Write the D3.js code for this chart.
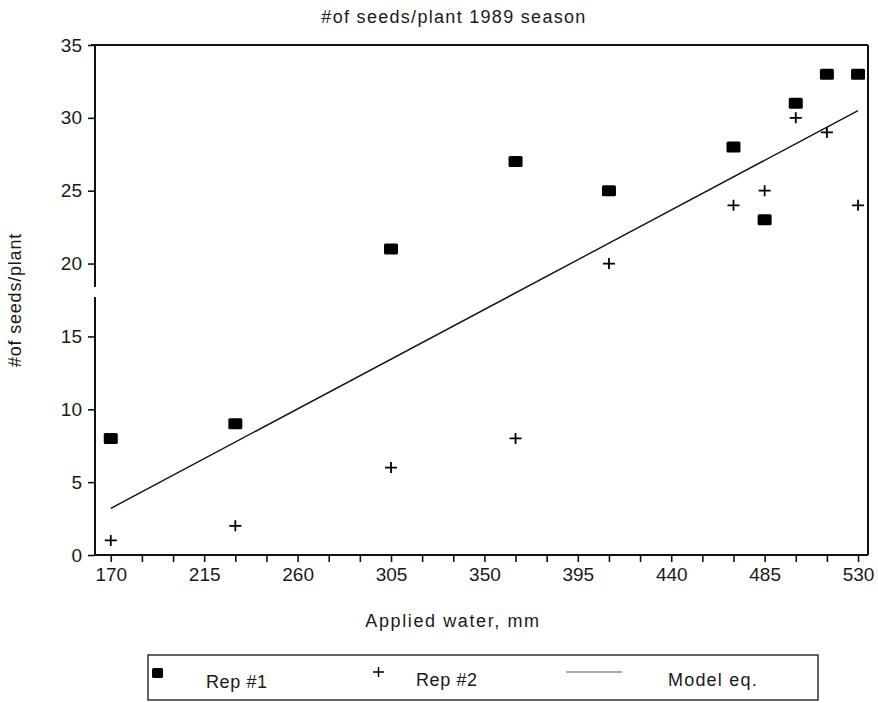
<!DOCTYPE html>
<html>
<head>
<meta charset="utf-8">
<script src="https://cdn.jsdelivr.net/npm/d3@7"></script>
<style>
body { margin: 0; background: #fff; }
text { font-family: "Liberation Sans", Arial, sans-serif; fill: #1a1a1a; }
</style>
</head>
<body>
<div id="graph"></div>
<script>
// values
var water = [170, 230, 305, 365, 410, 470, 485, 500, 515, 530];
var rep1 = [8, 9, 21, 27, 25, 28, 23, 31, 33, 33];
var rep2 = [1, 2, 6, 8, 20, 24, 25, 30, 29, 24];
var modelWater = [170, 530];
var modelSeeds = [3.2, 30.5];
var xLabels = [170, 215, 260, 305, 350, 395, 440, 485, 530];
var xMinor = [170, 185, 200, 215, 230, 245, 260, 275, 290, 305, 320, 335, 350, 365, 380, 395, 410, 425, 440, 455, 470, 485, 500, 515, 530];
var yLabels = [0, 5, 10, 15, 20, 25, 30, 35];

var W = 878, H = 703;
var pLeft = 95, pRight = 868, pTop = 45, pBottom = 555;
var fs = '19px';

var svg = d3.select('#graph').append('svg')
  .attr('width', W).attr('height', H);

var x = d3.scaleLinear().domain([162.4, 534.8]).range([pLeft, pRight]);
var y = d3.scaleLinear().domain([0, 35]).range([pBottom, pTop]);

// title + axis labels
svg.append('text').attr('x', 454).attr('y', 23).attr('text-anchor', 'middle')
  .style('font-size', '18px').style('letter-spacing', '1.3px').text('#of seeds/plant 1989 season');
svg.append('text').attr('transform', 'translate(21,300) rotate(-90)')
  .attr('text-anchor', 'middle').style('font-size', '18px').style('letter-spacing', '0.8px').text('#of seeds/plant');
svg.append('text').attr('x', 453).attr('y', 627).attr('text-anchor', 'middle')
  .style('font-size', '18px').style('letter-spacing', '1.6px').text('Applied water, mm');

// x axis
var xAxis = svg.append('g').attr('transform', 'translate(0,' + pBottom + ')')
  .call(d3.axisBottom(x).tickValues(xMinor).tickSize(7).tickPadding(6).tickFormat(function (d) {
    return xLabels.indexOf(d) >= 0 ? d : '';
  }));
xAxis.select('.domain').remove();
xAxis.selectAll('line').attr('stroke', '#111').attr('stroke-width', 1.6);
xAxis.selectAll('text').style('font-size', fs);

// y axis
var yAxis = svg.append('g').attr('transform', 'translate(' + pLeft + ',0)')
  .call(d3.axisLeft(y).tickValues(yLabels).tickSize(7).tickPadding(6));
yAxis.select('.domain').remove();
yAxis.selectAll('line').attr('stroke', '#111').attr('stroke-width', 1.6);
yAxis.selectAll('text').style('font-size', fs);

// frame, with the break in the y axis
var frame = svg.append('g').attr('stroke', '#111').attr('stroke-width', 2).attr('fill', 'none');
frame.append('line').attr('x1', pLeft).attr('x2', pLeft).attr('y1', pTop).attr('y2', 287);
frame.append('line').attr('x1', pLeft).attr('x2', pLeft).attr('y1', 297).attr('y2', pBottom);
frame.append('line').attr('x1', pLeft - 1).attr('x2', pRight).attr('y1', pBottom).attr('y2', pBottom);
frame.append('line').attr('x1', pLeft - 4).attr('x2', pRight).attr('y1', pTop).attr('y2', pTop);
frame.append('line').attr('x1', pRight).attr('x2', pRight).attr('y1', pTop).attr('y2', pBottom);

// model line
var model = modelWater.map(function (d, i) { return [d, modelSeeds[i]]; });
svg.append('path').datum(model)
  .attr('d', d3.line().x(function (d) { return x(d[0]); }).y(function (d) { return y(d[1]); }))
  .attr('stroke', '#111').attr('stroke-width', 1.4).attr('fill', 'none');

// rep #1 squares
svg.selectAll('rect.rep1').data(water)
  .enter().append('rect').attr('class', 'rep1')
  .attr('x', function (d) { return x(d) - 7; })
  .attr('y', function (d, i) { return y(rep1[i]) - 5.5; })
  .attr('width', 14).attr('height', 11).attr('rx', 1.5)
  .attr('fill', '#000');

// rep #2 crosses
svg.selectAll('path.rep2').data(water)
  .enter().append('path').attr('class', 'rep2')
  .attr('transform', function (d, i) { return 'translate(' + x(d) + ',' + y(rep2[i]) + ')'; })
  .attr('d', 'M-6,0H6M0,-5.5V5.5')
  .attr('stroke', '#000').attr('stroke-width', 1.8);

// legend
var lg = svg.append('g');
lg.append('rect').attr('x', 148).attr('y', 655).attr('width', 670).attr('height', 45)
  .attr('fill', 'none').attr('stroke', '#111').attr('stroke-width', 1.3);
lg.append('rect').attr('x', 152).attr('y', 668).attr('width', 11).attr('height', 10).attr('rx', 1.5).attr('fill', '#000');
lg.append('text').attr('x', 206).attr('y', 688).style('font-size', '18px').style('letter-spacing', '0.6px').text('Rep #1');
lg.append('path').attr('d', 'M373,672H384M378.5,667V677').attr('stroke', '#000').attr('stroke-width', 1.5);
lg.append('text').attr('x', 416).attr('y', 686).style('font-size', '18px').style('letter-spacing', '0.6px').text('Rep #2');
lg.append('line').attr('x1', 566).attr('x2', 622).attr('y1', 672).attr('y2', 672)
  .attr('stroke', '#555').attr('stroke-width', 1);
lg.append('text').attr('x', 668).attr('y', 686).style('font-size', '18px').style('letter-spacing', '1.2px').text('Model eq.');
</script>
</body>
</html>
